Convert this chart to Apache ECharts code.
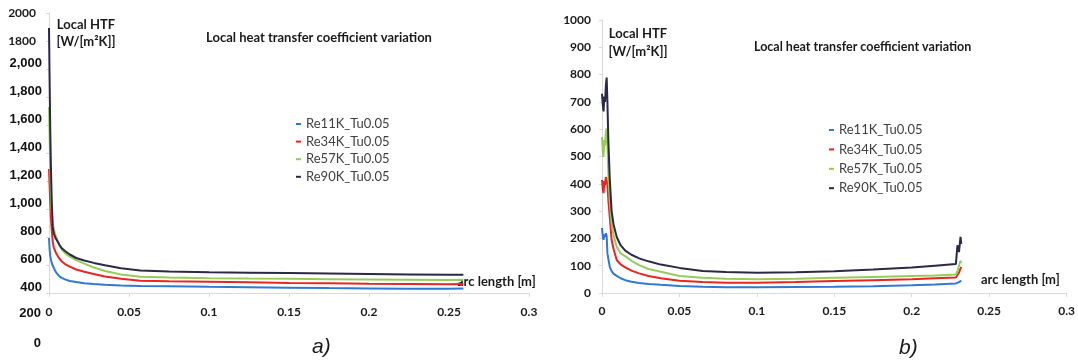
<!DOCTYPE html>
<html>
<head>
<meta charset="utf-8">
<script src="https://cdn.jsdelivr.net/npm/echarts@6.0.0/dist/echarts.min.js"></script>
<style>
  html, body { margin: 0; padding: 0; background: #fff; }
  #chart { width: 1078px; height: 363px; }
</style>
</head>
<body>
<div id="chart"></div>
<script>
// ---- data ----
const seriesNames = ["Re11K_Tu0.05", "Re34K_Tu0.05", "Re57K_Tu0.05", "Re90K_Tu0.05"];
const seriesColors = ["#2f78d4", "#e8251f", "#96cc5c", "#2b2946"];

// panel a)
const arcA = [0, 0.0004, 0.0008, 0.0012, 0.0017, 0.0023, 0.003, 0.004, 0.005, 0.0065, 0.008, 0.01,
  0.013, 0.017, 0.022, 0.028, 0.035, 0.045, 0.057, 0.075, 0.1, 0.125, 0.15, 0.175, 0.2, 0.225, 0.25, 0.259];
const htfA_Re11K = [393, 310, 265, 238, 215, 196, 180, 155, 138, 120, 108, 97,
  86, 78, 70, 64, 59, 54, 50, 48, 44, 41, 38, 35, 33, 31, 30, 33];
const htfA_Re34K = [886, 760, 640, 540, 450, 370, 325, 295, 273, 245, 225, 207,
  188, 168, 152, 136, 118, 101, 88, 84, 80, 76, 72, 69, 66, 64, 62, 64];
const htfA_Re57K = [1329, 1100, 900, 720, 580, 500, 455, 415, 385, 338, 310, 285,
  260, 235, 210, 182, 157, 132, 116, 111, 106, 103, 101, 99, 97, 95, 93, 95];
const htfA_Re90K = [1893, 1500, 1150, 900, 664, 474, 425, 395, 375, 345, 320, 300,
  275, 250, 232, 215, 198, 177, 160, 154, 148, 145, 142, 139, 136, 133, 130, 131];

// panel b)
const arcB = [0, 0.0005, 0.001, 0.0015, 0.002, 0.0025, 0.003, 0.0035, 0.0041, 0.005, 0.0062, 0.0075,
  0.0095, 0.012, 0.015, 0.019, 0.024, 0.03, 0.038, 0.05, 0.065, 0.08, 0.1, 0.125, 0.15, 0.175, 0.2,
  0.215, 0.2285, 0.2295, 0.2305, 0.2315, 0.232];
const htfB_Re11K = [238, 206, 195, 215, 205, 219, 210, 145, 125, 96, 80, 70,
  63, 54, 47, 41, 37, 33, 30, 26, 23, 21, 21, 22, 23, 25, 28,
  31, 35, 36, 40, 44, 45];
const htfB_Re34K = [414, 380, 366, 410, 395, 425, 432, 400, 340, 280, 194, 160,
  121, 105, 94, 82, 72, 62, 54, 45, 40, 38, 38, 40, 44, 47, 50,
  54, 57, 62, 75, 90, 95];
const htfB_Re57K = [571, 520, 498, 560, 540, 590, 603, 540, 438, 340, 255, 210,
  170, 145, 135, 118, 102, 88, 78, 62, 56, 52, 50, 52, 56, 59, 62,
  64, 68, 80, 100, 118, 110];
const htfB_Re90K = [730, 690, 665, 720, 700, 760, 789, 700, 560, 420, 300, 250,
  205, 175, 155, 140, 127, 116, 104, 92, 81, 77, 74, 76, 80, 86, 93,
  100, 106, 175, 150, 206, 180];

// tick labels
const arcTicks = [0, 0.05, 0.1, 0.15, 0.2, 0.25, 0.3];
const yTicksA_top = [1800, 2000];
const yTicksA_comma = [400, 600, 800, 1000, 1200, 1400, 1600, 1800, 2000];
const yTicksA_bottom = [0, 200];
const yTicksB = [0, 100, 200, 300, 400, 500, 600, 700, 800, 900, 1000];

const calibriLike = "Lato";
const arialLike = "'Liberation Sans', Arial";
const axisGrey = "#d9d9d9";

function pairs(xs, ys) { return xs.map((x, i) => [x, ys[i]]); }
const plain = v => String(v);

const dataA = [htfA_Re11K, htfA_Re34K, htfA_Re57K, htfA_Re90K];
const dataB = [htfB_Re11K, htfB_Re34K, htfB_Re57K, htfB_Re90K];

const chart = echarts.init(document.getElementById("chart"));

const xAxisBase = {
  type: "value", min: 0, max: 0.3, interval: 0.05,
  axisLine: { show: true, lineStyle: { color: axisGrey, width: 1 } },
  axisTick: { show: true, length: 4, lineStyle: { color: axisGrey } },
  splitLine: { show: false },
  axisLabel: { fontFamily: calibriLike, fontWeight: "bold", fontSize: 12, color: "#1a1a1a", formatter: plain }
};

const series = [];
dataA.forEach((ys, i) => series.push({
  name: seriesNames[i], type: "line", xAxisIndex: 0, yAxisIndex: 0,
  data: pairs(arcA, ys), symbol: "none", lineStyle: { width: 2, color: seriesColors[i] },
  itemStyle: { color: seriesColors[i] }, z: 3 + i
}));
dataB.forEach((ys, i) => series.push({
  name: seriesNames[i], type: "line", xAxisIndex: 2, yAxisIndex: 3,
  data: pairs(arcB, ys), symbol: "none", lineStyle: { width: 2, color: seriesColors[i] },
  itemStyle: { color: seriesColors[i] }, z: 3 + i
}));

const legendBase = {
  orient: "vertical", icon: "rect", itemWidth: 5, itemHeight: 2, padding: 0,
  data: seriesNames, selectedMode: false,
  textStyle: { fontFamily: calibriLike, fontSize: 13, color: "#404040", lineHeight: 14 }
};

chart.setOption({
  animation: false,
  backgroundColor: "#fff",
  grid: [
    { left: 49, top: 13, width: 480, height: 280 },
    { left: 49, top: 313, width: 480, height: 30 },
    { left: 602, top: 20, width: 465, height: 273 }
  ],
  xAxis: [
    Object.assign({}, xAxisBase, { gridIndex: 0, axisLabel: Object.assign({}, xAxisBase.axisLabel, { margin: 13,
      customValues: arcTicks }) }),
    { type: "value", gridIndex: 1, min: 0, max: 0.3, show: false },
    Object.assign({}, xAxisBase, { gridIndex: 2, axisLabel: Object.assign({}, xAxisBase.axisLabel, { margin: 12,
      customValues: arcTicks }) })
  ],
  yAxis: [
    { // true scale of panel a)
      type: "value", gridIndex: 0, min: 0, max: 2000, interval: 200, position: "left",
      axisLine: { show: true, lineStyle: { color: axisGrey } },
      axisTick: { show: true, length: 3, lineStyle: { color: axisGrey } },
      splitLine: { show: false },
      axisLabel: { customValues: yTicksA_top, margin: 13, fontFamily: calibriLike, fontWeight: "bold",
        fontSize: 12, color: "#1a1a1a", formatter: plain }
    },
    { // pasted comma labels of panel a)
      type: "value", gridIndex: 0, min: 357, max: 2357, position: "left",
      axisLine: { show: false }, axisTick: { show: false }, splitLine: { show: false },
      axisLabel: { customValues: yTicksA_comma, margin: 7, fontFamily: arialLike, fontWeight: "bold",
        fontSize: 13, color: "#111", formatter: v => v.toLocaleString("en-US") }
    },
    { // stray labels below panel a)
      type: "value", gridIndex: 1, min: 0, max: 200, interval: 200, position: "left",
      axisLine: { show: false }, axisTick: { show: false }, splitLine: { show: false },
      axisLabel: { margin: 8, fontFamily: arialLike, fontWeight: "bold", fontSize: 13, color: "#111",
        customValues: yTicksA_bottom, formatter: plain }
    },
    { // panel b)
      type: "value", gridIndex: 2, min: 0, max: 1000, interval: 100, position: "left",
      axisLine: { show: true, lineStyle: { color: axisGrey } },
      axisTick: { show: true, length: 3, lineStyle: { color: axisGrey } },
      splitLine: { show: false },
      axisLabel: { customValues: yTicksB, margin: 11, fontFamily: calibriLike, fontWeight: "bold",
        fontSize: 12, color: "#1a1a1a", formatter: plain }
    }
  ],
  legend: [
    Object.assign({}, legendBase, { left: 296, top: 117, itemGap: 3.6 }),
    Object.assign({}, legendBase, { left: 829, top: 123, itemGap: 5.4 })
  ],
  graphic: [
    { type: "text", x: 86, y: 33.5, style: { text: "Local HTF\n[W/[m\u00B2K]]", align: "center", verticalAlign: "middle",
      font: "bold 13px Lato", lineHeight: 17, fill: "#1a1a1a" } },
    { type: "text", x: 638, y: 42.5, style: { text: "Local HTF\n[W/[m\u00B2K]]", align: "center", verticalAlign: "middle",
      font: "bold 13px Lato", lineHeight: 18, fill: "#1a1a1a" } },
    { type: "text", x: 206, y: 38, style: { text: "Local heat transfer coefficient variation", verticalAlign: "middle",
      font: "bold 13px Lato", fill: "#1a1a1a" } },
    { type: "text", x: 754, y: 46.5, style: { text: "Local heat transfer coefficient variation", verticalAlign: "middle",
      font: "bold 12.5px Lato", fill: "#1a1a1a" } },
    { type: "text", x: 457, y: 282, style: { text: "arc length [m]", verticalAlign: "middle",
      font: "bold 13px Lato", fill: "#1a1a1a" } },
    { type: "text", x: 981, y: 279.5, style: { text: "arc length [m]", verticalAlign: "middle",
      font: "bold 13px Lato", fill: "#1a1a1a" } },
    { type: "text", x: 312, y: 347, style: { text: "a)", verticalAlign: "middle",
      font: "italic 21px 'Liberation Sans'", fill: "#1a1a1a" } },
    { type: "text", x: 899, y: 348, style: { text: "b)", verticalAlign: "middle",
      font: "italic 21px 'Liberation Sans'", fill: "#1a1a1a" } }
  ],
  series: series
});
</script>
</body>
</html>
